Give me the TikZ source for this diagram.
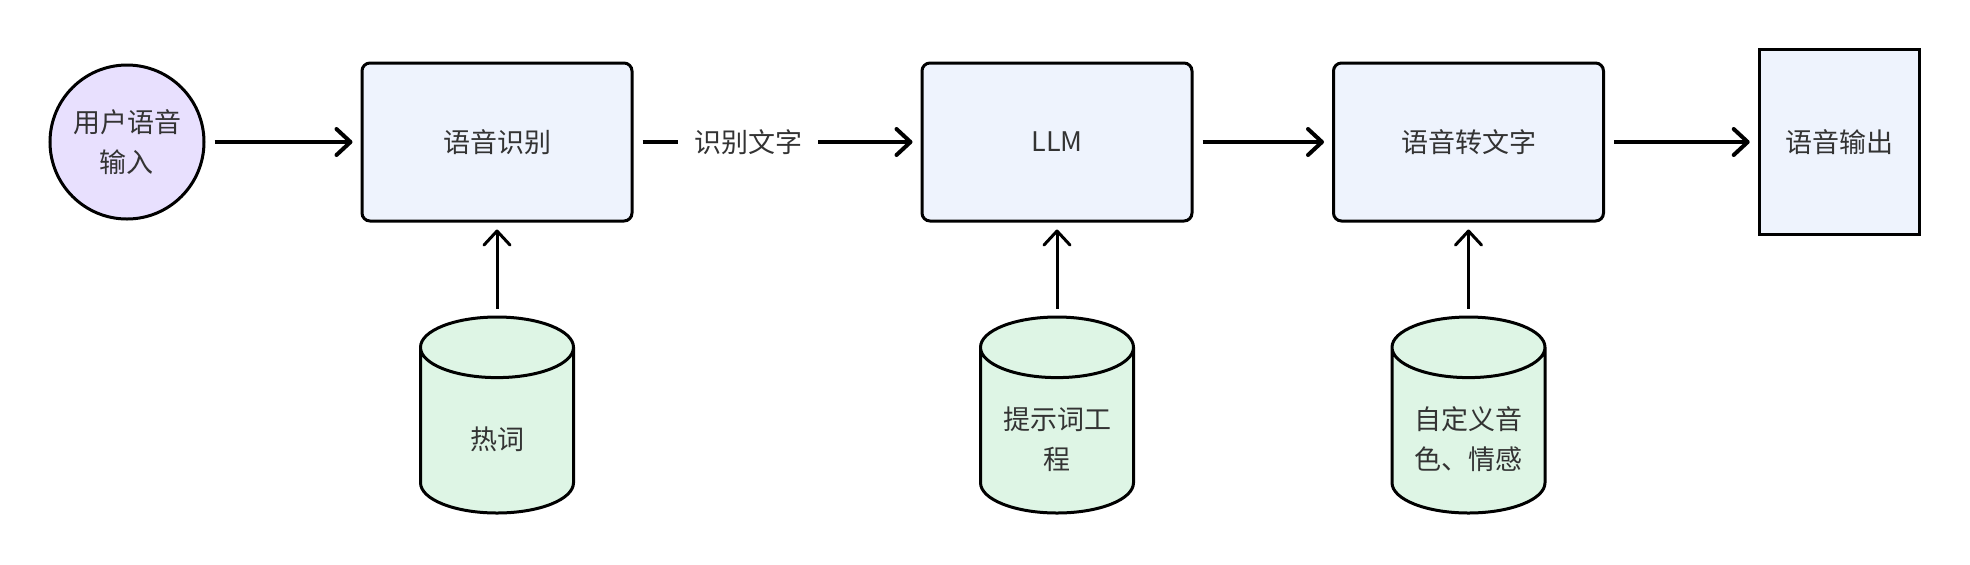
\documentclass[tikz,border=0pt]{standalone}
\usepackage{fontspec}
\setmainfont{Noto Sans CJK SC}
\usetikzlibrary{arrows.meta,positioning,shapes.geometric}
\definecolor{inputfill}{HTML}{E8E0FE}
\definecolor{blockfill}{HTML}{EEF3FD}
\definecolor{storefill}{HTML}{DEF5E5}
\definecolor{textgray}{HTML}{333333}

\begin{document}
\begin{tikzpicture}[
  >={Straight Barb[round,length=7pt,width=13pt]},
  block/.style  = {draw, line width=1.5pt, fill=blockfill, rounded corners=4pt, minimum width=135pt, minimum height=79pt, align=center},
  inbox/.style  = {draw, circle, line width=1.5pt, fill=inputfill, minimum size=77pt, inner sep=0pt, align=center},
  outbox/.style = {draw, line width=1.5pt, fill=blockfill, minimum width=80pt, minimum height=92.5pt, align=center},
  store/.style  = {draw, cylinder, shape border rotate=90, aspect=0.9, text width=27pt, line width=1.5pt, fill=storefill, minimum width=76.5pt, minimum height=98pt},
  storetext/.style = {align=center, yshift=-12pt},
  line/.style   = {->, line width=2pt, shorten <=4.5pt, shorten >=4pt},
  feed/.style   = {->, line width=1.5pt, shorten <=3.5pt, shorten >=3.5pt},
  every node/.style = {font=\fontsize{13.5}{20}\selectfont, text=textgray},
  node distance=46.5pt and 77.5pt
]

% Nodes
\node[inbox]                         (voice) {用户语音\\输入};
\node[block, right=of voice]         (asr)   {语音识别};
\node[block, right=143.5pt of asr]   (llm)   {LLM};
\node[block, right=69.25pt of llm]   (tts)   {语音转文字};
\node[outbox, right=76.35pt of tts]  (out)   {语音输出};

% Stores below
\node[store, below=of asr] (hot)    {};
\node[store, below=of llm] (prompt) {};
\node[store, below=of tts] (timbre) {};
\node[storetext] (hottext)    at (hot.shape center)    {热词};
\node[storetext] (prompttext) at (prompt.shape center) {提示词工\\程};
\node[storetext] (timbretext) at (timbre.shape center) {自定义音\\色、情感};

\useasboundingbox (voice.center) ++(-63.5pt,71pt) rectangle ++(985pt,-282pt);

% Main path
\draw[line] (voice) -- (asr);
\draw[line] (asr) -- node[pos=0.4, fill=white, inner sep=8pt] {识别文字} (llm);
\draw[line] (llm) -- (tts);
\draw[line] (tts) -- (out);

% Inputs from stores
\draw[feed] (hot) -- (asr);
\draw[feed] (prompt) -- (llm);
\draw[feed] (timbre) -- (tts);

\end{tikzpicture}
\end{document}
